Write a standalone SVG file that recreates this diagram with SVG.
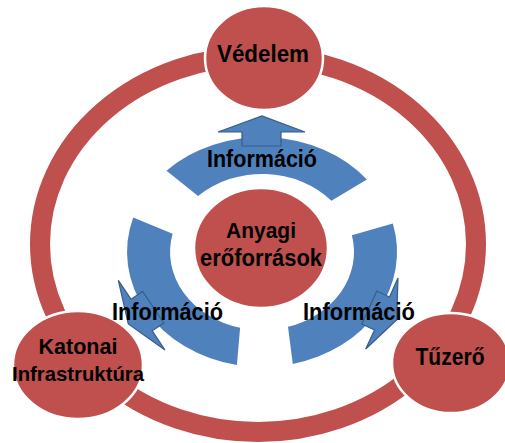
<svg xmlns="http://www.w3.org/2000/svg" width="505" height="443" viewBox="0 0 505 443">
<style>
.node{fill:#c0504d;stroke:#ffffff;stroke-width:2.5}
.band{fill:#4f81bd;stroke:none}
.arrow{fill:#4f81bd;stroke:#385d8a;stroke-width:1.2;stroke-linejoin:miter}
.lbl{font-family:"Liberation Sans",Arial,sans-serif;font-weight:bold;font-size:23px;fill:#000000;text-anchor:middle}
</style>
<rect width="505" height="443" fill="#ffffff"/>
<g id="connectors">
<ellipse id="outer-ring" cx="258" cy="244" rx="218" ry="188" fill="none" stroke="#c0504d" stroke-width="20"/>
<g id="info-flows">
<path class="band" d="M166.5,170.7 A135,115 0 0 1 366.9,179.6 L331.4,200.8 A92,78 0 0 0 198.1,195.9 Z"/>
<path class="band" d="M392.8,223.4 A135,115 0 0 1 292.8,364 L288,326.8 A92,78 0 0 0 351.9,235.3 Z"/>
<path class="band" d="M236.9,365 A135,115 0 0 1 133.2,217.6 L172.6,233.7 A92,78 0 0 0 240.1,327.7 Z"/>
<polygon class="arrow" points="242,146 242,132 218,132 262,116 305,132 281,132 281,146"/>
<polygon class="arrow" points="142.6,291.4 131,299.2 118.3,280.3 128.3,324 165,350 152.2,330.8 163.8,323"/>
<polygon class="arrow" points="376.8,291 389.5,297 398,278 396.6,320 365.7,349 374.5,330 361.8,324"/>
</g>
</g>
<g id="node-vedelem">
<ellipse class="node" cx="264" cy="58" rx="59" ry="52"/>
<text class="lbl" x="263" y="62" textLength="92" lengthAdjust="spacingAndGlyphs">Védelem</text>
</g>
<g id="node-katonai">
<ellipse class="node" cx="78" cy="365" rx="65" ry="54"/>
<text class="lbl" x="78" y="354" style="font-size:22px" textLength="79" lengthAdjust="spacingAndGlyphs">Katonai</text>
<text class="lbl" x="78" y="381" style="font-size:21px" textLength="132" lengthAdjust="spacingAndGlyphs">Infrastruktúra</text>
</g>
<g id="node-tuzero">
<ellipse class="node" cx="451" cy="363" rx="59" ry="50"/>
<text class="lbl" x="450" y="365" textLength="69" lengthAdjust="spacingAndGlyphs">Tűzerő</text>
</g>
<g id="node-anyagi">
<ellipse class="node" cx="261" cy="248" rx="67" ry="60"/>
<text class="lbl" x="261" y="238" style="font-size:22px" textLength="70" lengthAdjust="spacingAndGlyphs">Anyagi</text>
<text class="lbl" x="261" y="266" textLength="122" lengthAdjust="spacingAndGlyphs">erőforrások</text>
</g>
<g id="flow-labels">
<text class="lbl" x="262" y="167" textLength="110" lengthAdjust="spacingAndGlyphs">Információ</text>
<text class="lbl" x="167.5" y="320" textLength="111" lengthAdjust="spacingAndGlyphs">Információ</text>
<text class="lbl" x="359" y="320" textLength="112" lengthAdjust="spacingAndGlyphs">Információ</text>
</g>
</svg>
